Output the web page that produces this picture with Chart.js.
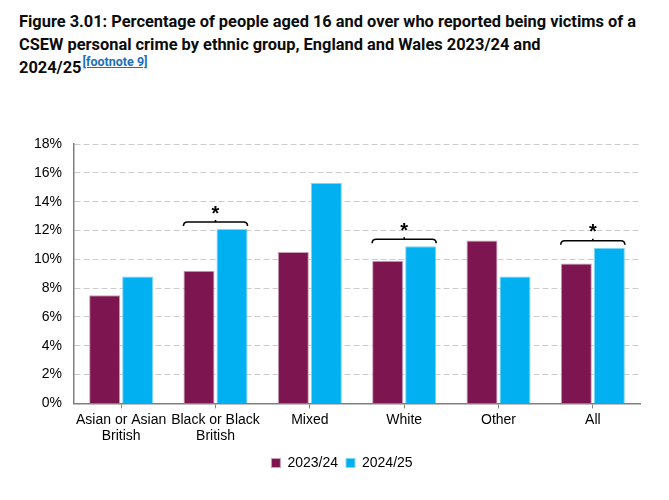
<!DOCTYPE html>
<html>
<head>
<meta charset="utf-8">
<script src="https://cdn.jsdelivr.net/npm/chart.js@4"></script>
<style>
  html, body { margin: 0; padding: 0; background: #fff; }
  body { width: 669px; height: 500px; position: relative; overflow: hidden; }
  #title {
    position: absolute; left: 19px; top: 10px;
    font-family: Roboto, "Noto Sans", sans-serif; font-weight: 700;
    font-size: 16.4px; line-height: 23px; color: #0b0c0c; white-space: nowrap;
  }
  #title a { color: #1d70b8; font-size: 12.5px; line-height: 0; position: relative; top: -7px; text-decoration: underline; font-weight: 700; margin-left: 1px; }
  #wrap { position: absolute; left: 0; top: 100px; width: 669px; height: 390px; }
</style>
</head>
<body>
<div id="title">Figure 3.01: Percentage of people aged 16 and over who reported being victims of a<br>CSEW personal crime by ethnic group, England and Wales 2023/24 and<br>2024/25<a>[footnote 9]</a></div>
<div id="wrap"><canvas id="c"></canvas></div>
<script>
const categories = [["Asian or Asian", "British"], ["Black or Black", "British"], "Mixed", "White", "Other", "All"];
const seriesNames = ["2023/24", "2024/25"];
const values2023_24 = [7.5, 9.2, 10.5, 9.9, 11.3, 9.7];
const values2024_25 = [8.8, 12.1, 15.3, 10.9, 8.8, 10.8];
const significant = [false, true, false, true, false, true];
const yTicks = [0, 2, 4, 6, 8, 10, 12, 14, 16, 18];

const bracketPlugin = {
  id: 'brackets',
  afterDatasetsDraw(chart) {
    const ctx = chart.ctx;
    const m0 = chart.getDatasetMeta(0), m1 = chart.getDatasetMeta(1);
    ctx.save();
    significant.forEach((sig, i) => {
      if (!sig) return;
      const b0 = m0.data[i], b1 = m1.data[i];
      const x0 = b0.x - b0.width / 2, x1 = b1.x + b1.width / 2;
      const top = Math.min(b0.y, b1.y);
      const y = top - 7;
      const xm = (x0 + x1) / 2;
      ctx.strokeStyle = '#000'; ctx.lineWidth = 1.6;
      ctx.beginPath();
      ctx.moveTo(x0, y + 4); ctx.quadraticCurveTo(x0, y, x0 + 4, y);
      ctx.lineTo(x1 - 4, y); ctx.quadraticCurveTo(x1, y, x1, y + 4);
      ctx.moveTo(xm, y); ctx.lineTo(xm, y - 2);
      ctx.stroke();
      ctx.fillStyle = '#000';
      ctx.font = 'bold 20px "Liberation Sans", Arial, sans-serif';
      ctx.textAlign = 'center'; ctx.textBaseline = 'middle';
      ctx.fillText('*', xm, y - 8);
    });
    ctx.restore();
  }
};

const legendShift = {
  id: 'legendShift',
  afterLayout(chart) {
    const lg = chart.legend;
    if (lg) { lg.left += 22; lg.right += 22; }
  }
};

new Chart(document.getElementById('c'), {
  type: 'bar',
  data: {
    labels: categories,
    datasets: [
      { label: seriesNames[0], data: values2023_24, backgroundColor: '#7d1650', borderColor: '#c9a0b4', borderWidth: 1, borderSkipped: 'bottom' },
      { label: seriesNames[1], data: values2024_25, backgroundColor: '#00b0f0', borderColor: '#7fd7f7', borderWidth: 1, borderSkipped: 'bottom' }
    ]
  },
  options: {
    responsive: true, maintainAspectRatio: false, animation: false,
    devicePixelRatio: 1,
    datasets: { bar: { categoryPercentage: 0.7, barPercentage: 0.94 } },
    layout: { padding: { left: 0, right: 29, top: 44, bottom: 10 } },
    plugins: {
      title: { display: false },
      tooltip: { enabled: false },
      legend: {
        position: 'bottom',
        labels: {
          boxWidth: 9, boxHeight: 9, padding: 8, color: '#000',
          font: { family: '"Liberation Sans", Arial, sans-serif', size: 14 }
        }
      }
    },
    scales: {
      x: {
        grid: { offset: false, drawOnChartArea: false, drawTicks: true, tickLength: 5, tickColor: '#808080' },
        border: { display: true, color: '#808080', width: 1.5 },
        ticks: { color: '#000', padding: 4, maxRotation: 0, autoSkip: false,
          font: { family: '"Liberation Sans", Arial, sans-serif', size: 14, lineHeight: 1.12 } },
        afterFit(s) { s.height = 44.6; }
      },
      y: {
        min: 0, max: 18,
        afterBuildTicks(s) { s.ticks = yTicks.map(v => ({ value: v })); },
        afterFit(s) { s.width = 74; },
        grid: { color: '#cccccc', lineWidth: 1, drawTicks: false },
        border: { display: true, color: '#808080', width: 1.5, dash: [6, 3] },
        ticks: { color: '#000', padding: 12, callback: v => v + '%',
          font: { family: '"Liberation Sans", Arial, sans-serif', size: 14 } }
      }
    }
  },
  plugins: [bracketPlugin, legendShift]
});
</script>
</body>
</html>
